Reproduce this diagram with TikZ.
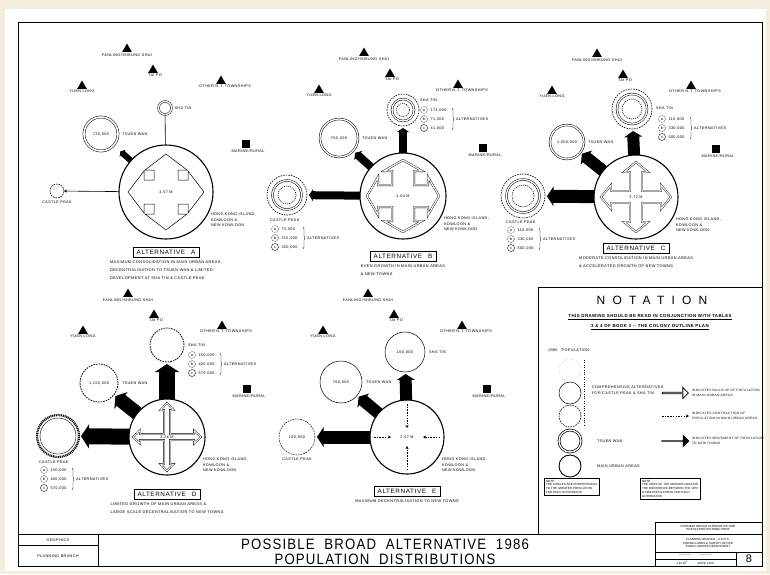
\documentclass[tikz,border=0pt]{standalone}
\usepackage{fontspec}
\setmainfont{Liberation Sans}
\newfontfamily\ltfont[LetterSpace=10]{Liberation Sans}
\newfontfamily\ttlfont[LetterSpace=8,FakeStretch=0.88]{Liberation Sans}
\newfontfamily\ntfont[LetterSpace=60]{Liberation Sans}
\usetikzlibrary{shapes.geometric,shapes.arrows,arrows.meta,decorations.pathreplacing}
\definecolor{paperbg}{HTML}{F4ECDD}
\tikzset{
  every node/.style={inner sep=0pt, outer sep=0pt},
  lbl/.style={font=\ltfont\fontsize{3.8}{5.4}\selectfont, align=left},
  lblsm/.style={font=\ltfont\fontsize{3.2}{4.8}\selectfont, align=left},
  notef/.style={font=\fontsize{3}{3.8}\selectfont, align=left},
  tri/.style={regular polygon, regular polygon sides=3, fill=black, minimum size=11pt},
  sq/.style={fill=black, minimum size=8pt},
  mainc/.style={circle, draw, line width=1.1pt},
  ring/.style={circle, draw, line width=0.5pt, double, double distance=1.3pt},
  dring/.style={circle, draw, line width=0.6pt, dash pattern=on 1.6pt off 1pt},
  thinc/.style={circle, draw, line width=0.5pt},
  blk/.style={line width=#1, -{Triangle[length=0pt 0.5, width=0pt 1.5]}},
  altbox/.style={draw, line width=0.6pt, font=\ltfont\fontsize{6.3}{7}\selectfont, minimum width=66pt, minimum height=10pt},
  desc/.style={font=\ltfont\fontsize{3.9}{8}\selectfont, align=left},
  frame/.style={line width=1pt},
  thin/.style={line width=0.6pt},
  dasharrow/.style={line width=0.5pt, dash pattern=on 1.5pt off 1.2pt, -{Stealth[length=3pt,width=3pt]}},
}
% four-way arrow: shaft half width, head half width, head base, apex, style
\newcommand\fourway[5]{%
  \draw[#5] (0,-#4) -- (#2,-#3) -- (#1,-#3) -- (#1,-#1) -- (#3,-#1) -- (#3,-#2) -- (#4,0)
   -- (#3,#2) -- (#3,#1) -- (#1,#1) -- (#1,#3) -- (#2,#3) -- (0,#4)
   -- (-#2,#3) -- (-#1,#3) -- (-#1,#1) -- (-#3,#1) -- (-#3,#2) -- (-#4,0)
   -- (-#3,-#2) -- (-#3,-#1) -- (-#1,-#1) -- (-#1,-#3) -- (-#2,-#3) -- cycle;}
% common elements of one alternative
\newcommand\commonset[6]{%
  \node[mainc, minimum size={2*#2pt}] (#1m) at (0,0) {};
  \node[tri] (#1fl) at (-39,-143) {};
  \node[lbl, anchor=north, yshift=-1.5pt] (#1fll) at (#1fl.south) {FANLING/SHEUNG SHUI};
  \node[tri] (#1tp) at (-13,-122) {};
  \node[lbl, anchor=north, yshift=-1.5pt, xshift=2pt] (#1tpl) at (#1tp.south) {TAI PO};
  \node[tri] (#1yl) at (-84,-106) {};
  \node[lbl, anchor=north, yshift=-1.5pt] (#1yll) at (#1yl.south) {YUEN LONG};
  \node[tri] (#1ot) at (55,-111) {};
  \node[lbl, anchor=north, yshift=-1.5pt, xshift=4pt] (#1otl) at (#1ot.south) {OTHER N.T. TOWNSHIPS};
  \node[sq] (#1mr) at (80,-48) {};
  \node[lbl, anchor=north, yshift=-2pt, xshift=2pt] (#1mrl) at (#1mr.south) {MARINE/RURAL};
  \node[lbl, anchor=north west] (#1hk) at (#2-2,21) {HONG KONG ISLAND,\\KOWLOON \&\\NEW KOWLOON};
  \node[altbox] (#1alt) at (0,#5) {ALTERNATIVE\hspace{6pt}#4};
  \node[desc, anchor=north] (#1ds) at (0,#5+9) {#6};
  \node[lbl] (#1mt) at (0,0) {#3};
}
% alternatives legend (a)(b)(c)
\newcommand\altleg[6]{%
  \node[lbl, circle, draw, line width=0.3pt, dash pattern=on 0.6pt off 0.6pt, minimum size=7pt] (#1a) at (#2,#3) {a};
  \node[lbl, circle, draw, line width=0.3pt, dash pattern=on 1pt off 0.6pt, minimum size=7pt] (#1b) at (#2,#3+9) {b};
  \node[lbl, circle, draw, line width=0.4pt, minimum size=7pt] (#1c) at (#2,#3+18) {c};
  \node[lbl, anchor=west] (#1ta) at ([xshift=3pt]#1a.east) {#4};
  \node[lbl, anchor=west] (#1tb) at ([xshift=3pt]#1b.east) {#5};
  \node[lbl, anchor=west] (#1tc) at ([xshift=3pt]#1c.east) {#6};
  \draw[line width=0.3pt, decorate, decoration={brace, amplitude=2pt}] (#2+28,#3-2) -- (#2+28,#3+20);
  \node[lbl, anchor=west] (#1alts) at (#2+32,#3+9) {ALTERNATIVES};
}
\begin{document}
\begin{tikzpicture}[x=1pt,y=-1pt]
\useasboundingbox (0,0) rectangle (770,574);
\fill[paperbg] (0,0) rectangle (770,574);
\fill[white] (5,9) rectangle (766,571);
\draw[frame] (18,22) rectangle (762,566);

% ---------------- ALTERNATIVE A
\begin{scope}[shift={(166,192)}]
\commonset{A}{47}{4.57 M}{A}{60}{MAXIMUM CONSOLIDATION IN MAIN URBAN AREAS,\\DECENTRALISATION TO TSUEN WAN \& LIMITED\\DEVELOPMENT AT SHA TIN \& CASTLE PEAK}
\fourway{12}{21}{22}{38}{line width=0.5pt}
\node[ring, minimum size=13pt] (Ast) at (-1,-84) {};
\node[lbl, anchor=west] (Astl) at ([xshift=3pt]Ast.east) {SHA TIN};
\draw[thin] (Am) -- (Ast);
\node[ring, minimum size=34pt, double distance=1.6pt] (Atw) at (-65,-58) {};
\node[lbl] (Atwt) at (Atw) {725,000};
\node[lbl, anchor=west] (Atwl) at ([xshift=4pt]Atw.east) {TSUEN WAN};
\draw[blk=6pt, shorten >=9pt] (Am) -- (Atw);
\node[dring, minimum size=14pt] (Acp) at (-109,-1) {};
\node[lbl, anchor=north] (Acpl) at ([yshift=-3pt]Acp.south) {CASTLE PEAK};
\draw[thin, -{Stealth[length=3pt,width=3pt]}] (Am) -- (Acp);
\end{scope}

% ---------------- ALTERNATIVE B
\begin{scope}[shift={(403,196)}]
\commonset{B}{43}{4.04 M}{B}{60}{EVEN GROWTH IN MAIN URBAN AREAS\\\& NEW TOWNS}
\fourway{11}{19}{25}{36}{line width=0.4pt, double, double distance=1.2pt}
\node[dring, minimum size=32pt] (Bst) at (0,-86) {};
\node[ring, minimum size=22pt] (Bst2) at (Bst) {};
\node[dring, minimum size=13pt, dash pattern=on 1pt off 1pt] (Bst3) at (Bst) {};
\node[lbl, anchor=west] (Bstl) at (17,-96) {SHA TIN};
\altleg{Bs}{21}{-86}{173,000}{71,000}{41,000}
\draw[blk=8pt, shorten >=2pt] (Bm) -- (Bst);
\node[ring, minimum size=38pt] (Btw) at (-64,-58) {};
\node[lbl] (Btwt) at (Btw) {700,000};
\node[lbl, anchor=west] (Btwl) at ([xshift=4pt]Btw.east) {TSUEN WAN};
\draw[blk=8pt, shorten >=3pt] (Bm) -- (Btw);
\node[dring, minimum size=40pt] (Bcp) at (-116,-1) {};
\node[ring, minimum size=29pt] (Bcp2) at (Bcp) {};
\node[dring, minimum size=18pt, dash pattern=on 1pt off 1pt] (Bcp3) at (Bcp) {};
\node[lbl, anchor=north west] (Bcpl) at (-133,23) {CASTLE PEAK};
\altleg{Bc}{-128}{33}{73,000}{215,000}{320,000}
\draw[blk=8pt, shorten >=2pt] (Bm) -- (Bcp);
\end{scope}

% ---------------- ALTERNATIVE C
\begin{scope}[shift={(636,197)}]
\commonset{C}{42}{3.72 M}{C}{51}{MODERATE CONSOLIDATION IN MAIN URBAN AREAS\\\& ACCELERATED GROWTH OF NEW TOWNS}
\fourway{6}{12}{25}{35}{line width=0.4pt, double, double distance=1.1pt}
\node[dring, minimum size=40pt] (Cst) at (-4,-88) {};
\node[ring, minimum size=30pt] (Cst2) at (Cst) {};
\node[dring, minimum size=20pt, dash pattern=on 1pt off 1pt] (Cst3) at (Cst) {};
\node[lbl, anchor=west] (Cstl) at (20,-89) {SHA TIN};
\altleg{Cs}{26}{-78}{110,000}{330,000}{500,000}
\draw[blk=12pt, shorten >=2pt] (Cm) -- (Cst);
\node[ring, minimum size=34pt] (Ctw) at (-69,-55) {};
\node[lbl] (Ctwt) at (Ctw) {1,050,000};
\node[lbl, anchor=west] (Ctwl) at ([xshift=4pt]Ctw.east) {TSUEN WAN};
\draw[blk=12pt, shorten >=2pt] (Cm) -- (Ctw);
\node[dring, minimum size=44pt] (Ccp) at (-113,-1) {};
\node[ring, minimum size=33pt] (Ccp2) at (Ccp) {};
\node[dring, minimum size=22pt, dash pattern=on 1pt off 1pt] (Ccp3) at (Ccp) {};
\node[lbl, anchor=north west] (Ccpl) at (-130,24) {CASTLE PEAK};
\altleg{Cc}{-125}{33}{110,000}{330,000}{500,000}
\draw[blk=13pt, shorten >=2pt] (Cm) -- (Ccp);
\end{scope}

% ---------------- ALTERNATIVE D
\begin{scope}[shift={(167,437)}]
\commonset{D}{38}{3.26 M}{D}{57}{LIMITED GROWTH OF MAIN URBAN AREAS \&\\LARGE SCALE DECENTRALISATION TO NEW TOWNS}
\fourway{3}{6.5}{27}{34}{line width=0.4pt, double, double distance=1pt}
\node[dring, minimum size=34pt, line width=0.8pt] (Dst) at (0,-92) {};
\node[lbl, anchor=west] (Dstl) at ([xshift=4pt]Dst.east) {SHA TIN};
\altleg{Ds}{25}{-82}{150,000}{400,000}{570,000}
\draw[blk=16pt, shorten >=2pt] (Dm) -- (Dst);
\node[dring, minimum size=38pt, line width=0.8pt] (Dtw) at (-68,-54) {};
\node[lbl] (Dtwt) at (Dtw) {1,150,000};
\node[lbl, anchor=west] (Dtwl) at ([xshift=4pt]Dtw.east) {TSUEN WAN};
\draw[blk=14pt, shorten >=2pt] (Dm) -- (Dtw);
\node[circle, draw, line width=2.2pt, dash pattern=on 1pt off 0.8pt, minimum size=42pt] (Dcp) at (-109,-1) {};
\node[thinc, minimum size=36pt, line width=0.4pt] (Dcp2) at (Dcp) {};
\node[lbl, anchor=north west] (Dcpl) at (-128,24) {CASTLE PEAK};
\altleg{Dc}{-123}{33}{150,000}{400,000}{570,000}
\draw[blk=16pt, shorten >=2pt] (Dm) -- (Dcp);
\end{scope}

% ---------------- ALTERNATIVE E
\begin{scope}[shift={(407,437)}]
\commonset{E}{37}{}{E}{54}{MAXIMUM DECENTRALISATION TO NEW TOWNS}
\node[lbl, fill=white, inner sep=1pt] (Emt2) at (0,0) {2.97 M};
\coordinate (Et1) at (0,-33); \coordinate (Et2) at (0,-9);
\coordinate (Eb1) at (0,33); \coordinate (Eb2) at (0,9);
\coordinate (El1) at (-33,0); \coordinate (El2) at (-16,0);
\coordinate (Er1) at (33,0); \coordinate (Er2) at (16,0);
\draw[dasharrow] (Et1) -- (Et2);
\draw[dasharrow] (Eb1) -- (Eb2);
\draw[dasharrow] (El1) -- (El2);
\draw[dasharrow] (Er1) -- (Er2);
\node[thinc, minimum size=40pt] (Est) at (-2,-85) {};
\node[lbl] (Estt) at (Est) {160,000};
\node[lbl, anchor=west] (Estl) at ([xshift=4pt]Est.east) {SHA TIN};
\draw[blk=12pt, shorten >=2pt] (Em) -- (Est);
\node[thinc, minimum size=42pt] (Etw) at (-66,-55) {};
\node[lbl] (Etwt) at (Etw) {760,000};
\node[lbl, anchor=west] (Etwl) at ([xshift=4pt]Etw.east) {TSUEN WAN};
\draw[blk=12pt, shorten >=2pt] (Em) -- (Etw);
\node[dring, minimum size=36pt, line width=0.5pt] (Ecp) at (-110,0) {};
\node[lbl] (Ecpt) at (Ecp) {180,000};
\node[lbl, anchor=north] (Ecpl) at ([yshift=-3pt]Ecp.south) {CASTLE PEAK};
\draw[blk=13pt, shorten >=2pt] (Em) -- (Ecp);
\end{scope}

% ---------------- NOTATION
\draw[frame] (538,534) -- (538,287) -- (762,287);
\node[font=\ntfont\fontsize{12}{12}\selectfont] (ntt) at (652,300) {NOTATION};
\node[font=\ltfont\bfseries\fontsize{4.4}{5}\selectfont] (nt1) at (650,317) {\underline{THIS DRAWING SHOULD BE READ IN CONJUNCTION WITH TABLES}};
\node[font=\ltfont\bfseries\fontsize{4.4}{5}\selectfont] (nt2) at (650,327) {\underline{3 \& 4 OF BOOK 3 -- THE COLONY OUTLINE PLAN}};
\node[lbl, anchor=west] (npop) at (548,350) {1986\hspace{4pt}POPULATION};
\node[circle, draw=gray, line width=0.4pt, dotted, minimum size=22pt] (nc0) at (570,370) {};
\node[thinc, minimum size=22pt] (nc1) at (570,393) {};
\node[dring, minimum size=22pt] (nc2) at (570,416) {};
\node[ring, minimum size=22pt, line width=0.7pt] (nc3) at (570,441) {};
\node[mainc, minimum size=22pt, line width=0.9pt] (nc4) at (570,466) {};
\coordinate (nb1) at (584,360); \coordinate (nb2) at (584,427);
\draw[line width=0.4pt, dotted] (nb1) -- (nb2);
\node[lbl, anchor=west] (ncomp) at (592,390) {COMPREHENSIVE ALTERNATIVES\\FOR CASTLE PEAK \& SHA TIN};
\node[lbl, anchor=west] (ntw) at (597,441) {TSUEN WAN};
\node[lbl, anchor=west] (nmua) at (597,466) {MAIN URBAN AREAS};
\node[single arrow, draw, line width=0.8pt, minimum height=26pt, minimum width=11pt, single arrow head extend=2.5pt] (la1) at (675,393) {};
\node[lblsm, anchor=west] (la1t) at (692,393) {INDICATES BUILD UP OF POPULATION\\IN MAIN URBAN AREAS};
\coordinate (nd1) at (662,416); \coordinate (nd2) at (689,416);
\draw[dasharrow] (nd1) -- (nd2);
\node[lblsm, anchor=west] (la2t) at (692,416) {INDICATES CONTRACTION OF\\POPULATION IN MAIN URBAN AREAS};
\node[single arrow, fill=black, minimum height=28pt, minimum width=13pt, single arrow head extend=2pt] (la3) at (675,441) {};
\node[lblsm, anchor=west] (la3t) at (692,441) {INDICATES MOVEMENT OF POPULATION\\TO NEW TOWNS};
\node[notef, draw, line width=0.5pt, inner sep=2pt, anchor=north west] (note1) at (544,478) {NOTE\\THE CIRCLES ARE PROPORTIONAL\\TO THE GREATER POPULATION\\FOR EACH ALTERNATIVE};
\node[notef, draw, line width=0.5pt, inner sep=2pt, anchor=north west] (note2) at (640,478) {NOTE\\THE SIZES OF THE ARROWS INDICATE\\THE DIFFERENCE BETWEEN THE 1976\\\& 1986 POPULATIONS FOR EACH\\ALTERNATIVE};

% ---------------- TITLE BLOCK
\draw[frame] (18,534) -- (762,534);
\draw[frame] (98,534) -- (98,566);
\draw[thin] (18,545) -- (98,545);
\node[lbl] (gr) at (58,540) {GRAPHICS};
\node[lbl] (pb) at (58,556) {PLANNING BRANCH};
\node[font=\ttlfont\fontsize{15}{15}\selectfont] (t1) at (385,544) {POSSIBLE\ \ BROAD\ \ ALTERNATIVE\ \ 1986};
\node[font=\ttlfont\fontsize{15}{15}\selectfont] (t2) at (385,559) {POPULATION\ \ DISTRIBUTIONS};
\draw[frame] (655,566) -- (655,522) -- (762,522);
\draw[thin] (655,552) -- (762,552);
\draw[thin] (655,559) -- (736,559);
\draw[thin] (736,552) -- (736,566);
\node[notef, align=center] (rb1) at (708,528) {POSSIBLE BROAD ALTERNATIVE 1986\\POPULATION DISTRIBUTIONS};
\node[notef, align=center] (rb2) at (708,543) {PLANNING BRANCH -- C.D.P.S.\\CROWN LANDS \& SURVEY OFFICE\\PUBLIC WORKS DEPARTMENT};
\node[notef] (rb3) at (695,555.5) {------------\hspace{8pt}------------};
\node[notef] (rb4) at (695,562.5) {1 IN 10\textsuperscript{6}\hspace{10pt}APRIL 1970};
\node[font=\fontsize{11}{11}\selectfont] (rb5) at (749,559) {8};
\end{tikzpicture}
\end{document}
